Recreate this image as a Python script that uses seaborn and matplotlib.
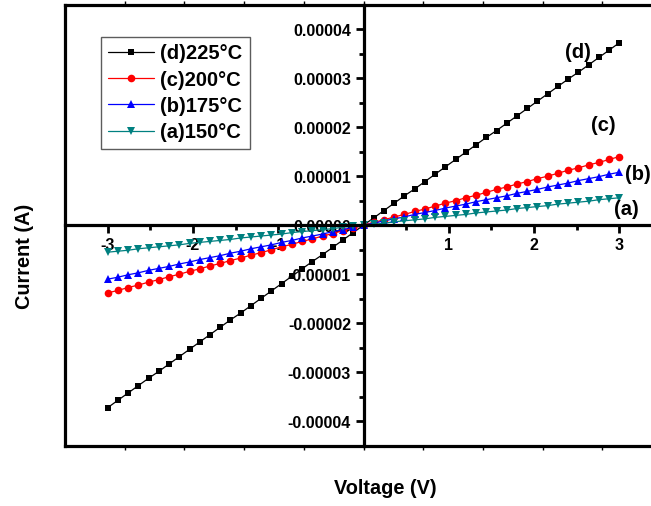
import matplotlib
matplotlib.use("Agg")
import matplotlib.pyplot as plt
import seaborn as sns
import pandas as pd
from matplotlib.ticker import FixedLocator, FuncFormatter

# ---- data (current in units of 1e-5 A) ----
voltage = [-3.00, -2.88, -2.76, -2.64, -2.52, -2.40, -2.28, -2.16, -2.04, -1.92,
           -1.80, -1.68, -1.56, -1.44, -1.32, -1.20, -1.08, -0.96, -0.84, -0.72,
           -0.60, -0.48, -0.36, -0.24, -0.12, 0.00, 0.12, 0.24, 0.36, 0.48,
           0.60, 0.72, 0.84, 0.96, 1.08, 1.20, 1.32, 1.44, 1.56, 1.68,
           1.80, 1.92, 2.04, 2.16, 2.28, 2.40, 2.52, 2.64, 2.76, 2.88, 3.00]

current_d = [-3.72, -3.57, -3.42, -3.27, -3.12, -2.98, -2.83, -2.68, -2.53, -2.38,
             -2.23, -2.08, -1.93, -1.79, -1.64, -1.49, -1.34, -1.19, -1.04, -0.89,
             -0.74, -0.60, -0.45, -0.30, -0.15, 0.00, 0.15, 0.30, 0.45, 0.60,
             0.74, 0.89, 1.04, 1.19, 1.34, 1.49, 1.64, 1.79, 1.93, 2.08,
             2.23, 2.38, 2.53, 2.68, 2.83, 2.98, 3.12, 3.27, 3.42, 3.57, 3.72]

current_c = [-1.38, -1.33, -1.27, -1.22, -1.16, -1.11, -1.05, -1.00, -0.94, -0.89,
             -0.83, -0.78, -0.72, -0.67, -0.61, -0.56, -0.50, -0.44, -0.39, -0.33,
             -0.28, -0.22, -0.17, -0.11, -0.06, 0.00, 0.06, 0.11, 0.17, 0.22,
             0.28, 0.33, 0.39, 0.45, 0.50, 0.56, 0.61, 0.67, 0.73, 0.78,
             0.84, 0.89, 0.95, 1.00, 1.06, 1.12, 1.17, 1.23, 1.28, 1.34, 1.40]

current_b = [-1.10, -1.06, -1.01, -0.97, -0.92, -0.88, -0.84, -0.79, -0.75, -0.70,
             -0.66, -0.62, -0.57, -0.53, -0.48, -0.44, -0.40, -0.35, -0.31, -0.26,
             -0.22, -0.18, -0.13, -0.09, -0.04, 0.00, 0.04, 0.09, 0.13, 0.17,
             0.22, 0.26, 0.30, 0.35, 0.39, 0.43, 0.48, 0.52, 0.56, 0.60,
             0.65, 0.69, 0.73, 0.78, 0.82, 0.86, 0.91, 0.95, 0.99, 1.04, 1.08]

current_a = [-0.55, -0.53, -0.51, -0.48, -0.46, -0.44, -0.42, -0.40, -0.37, -0.35,
             -0.33, -0.31, -0.29, -0.26, -0.24, -0.22, -0.20, -0.18, -0.15, -0.13,
             -0.11, -0.09, -0.07, -0.04, -0.02, 0.00, 0.02, 0.04, 0.07, 0.09,
             0.11, 0.13, 0.16, 0.18, 0.20, 0.22, 0.25, 0.27, 0.29, 0.31,
             0.34, 0.36, 0.38, 0.40, 0.43, 0.45, 0.47, 0.49, 0.52, 0.54, 0.56]

series_labels = ["(d)225°C", "(c)200°C", "(b)175°C", "(a)150°C"]
series_colors = ["#000000", "#ff0000", "#0000ff", "#008080"]
series_markers = ["s", "o", "^", "v"]
series_msize = [5, 5.5, 6, 6]
annot_text = ["(d)", "(c)", "(b)", "(a)"]
annot_x = [2.52, 2.81, 3.22, 3.08]
annot_y = [3.53, 2.04, 1.04, 0.33]

x_ticks = [-3, -2, -1, 1, 2, 3]
y_ticks = [-4, -3, -2, -1, 0, 1, 2, 3, 4]

scale = 1e-5

sns.set_theme(style="ticks")
plt.rcParams["font.family"] = ["Liberation Sans", "DejaVu Sans"]
plt.rcParams["font.weight"] = "bold"
plt.rcParams["text.color"] = "black"
plt.rcParams["xtick.color"] = "black"
plt.rcParams["ytick.color"] = "black"

W, H = 651, 506
fig = plt.figure(figsize=(6.51, 5.065), dpi=100)
rect = [65 / W, 60 / H, 597 / W, 441 / H]

# outer frame
frame = fig.add_axes(rect)
frame.set_xlim(0, 1)
frame.set_ylim(0, 1)
for s in frame.spines.values():
    s.set_linewidth(2.3)
    s.set_color("black")
frame.set_xticks([i / 10 for i in range(1, 10)])
frame.set_yticks([])
frame.tick_params(axis="x", which="both", direction="out", length=3, width=1,
                  top=True, bottom=True, labelbottom=False, labeltop=False, color="black")
frame.set_facecolor("white")

ax = fig.add_axes(rect)
ax.patch.set_alpha(0)

frames = []
for lab, cur in zip(series_labels, [current_d, current_c, current_b, current_a]):
    frames.append(pd.DataFrame({"Voltage": voltage,
                                "Current": [c * scale for c in cur],
                                "Series": lab}))
df = pd.concat(frames, ignore_index=True)

for lab, col, mk, ms in zip(series_labels, series_colors, series_markers, series_msize):
    sub = df[df["Series"] == lab]
    sns.lineplot(data=sub, x="Voltage", y="Current", ax=ax, color=col,
                 marker=mk, markersize=ms, markeredgewidth=0, linewidth=0.9,
                 label=lab, sort=False)

ax.set_xlim(-3.5, 3.5)
ax.set_ylim(-4.5e-5, 4.5e-5)

ax.spines["left"].set_position(("data", 0))
ax.spines["bottom"].set_position(("data", 0))
ax.spines["right"].set_visible(False)
ax.spines["top"].set_visible(False)
for s in ["left", "bottom"]:
    ax.spines[s].set_linewidth(2.3)
    ax.spines[s].set_color("black")

ax.xaxis.set_major_locator(FixedLocator(x_ticks))
ax.xaxis.set_minor_locator(FixedLocator([-3.5, -2.5, -1.5, -0.5, 0.5, 1.5, 2.5, 3.5]))
ax.yaxis.set_major_locator(FixedLocator([v * scale for v in y_ticks]))
ax.yaxis.set_minor_locator(FixedLocator([(v + 0.5) * scale for v in range(-5, 5)]))
ax.yaxis.set_major_formatter(FuncFormatter(lambda v, p: f"{v:.5f}" if abs(v) > 1e-9 else "0.00000"))
ax.xaxis.set_major_formatter(FuncFormatter(lambda v, p: f"{v:g}"))

ax.tick_params(axis="both", which="major", direction="out", length=6, width=2,
               color="black", labelcolor="black", labelsize=11.5, pad=3)
ax.tick_params(axis="both", which="minor", direction="out", length=3.5, width=2,
               color="black")
ax.tick_params(axis="x", which="both", bottom=True, top=False)
ax.tick_params(axis="y", which="both", left=True, right=False)
for t in ax.get_xticklabels() + ax.get_yticklabels():
    t.set_fontweight("bold")

ax.set_xlabel("")
ax.set_ylabel("")

for t, x, y in zip(annot_text, annot_x, annot_y):
    ax.text(x, y * scale, t, ha="center", va="center", fontsize=14.5,
            fontweight="bold", color="black")

leg = ax.legend(loc="upper left", bbox_to_anchor=(36 / 597, (446 - 37) / 441),
                borderaxespad=0, fancybox=False, frameon=True,
                handlelength=2.3, labelspacing=0.37, handletextpad=0.3,
                borderpad=0.35, prop={"weight": "bold", "size": 14.5})
leg.get_frame().set_edgecolor("#333333")
leg.get_frame().set_linewidth(1.0)
for txt in leg.get_texts():
    txt.set_color("black")

fig.text(24 / W, 1 - 256 / H, "Current (A)", rotation=90, ha="center", va="center",
         fontsize=14.3, fontweight="bold", color="black")
fig.text(385 / W, 1 - 488 / H, "Voltage (V)", ha="center", va="center",
         fontsize=14.3, fontweight="bold", color="black")

fig.savefig("out.png", dpi=100)
